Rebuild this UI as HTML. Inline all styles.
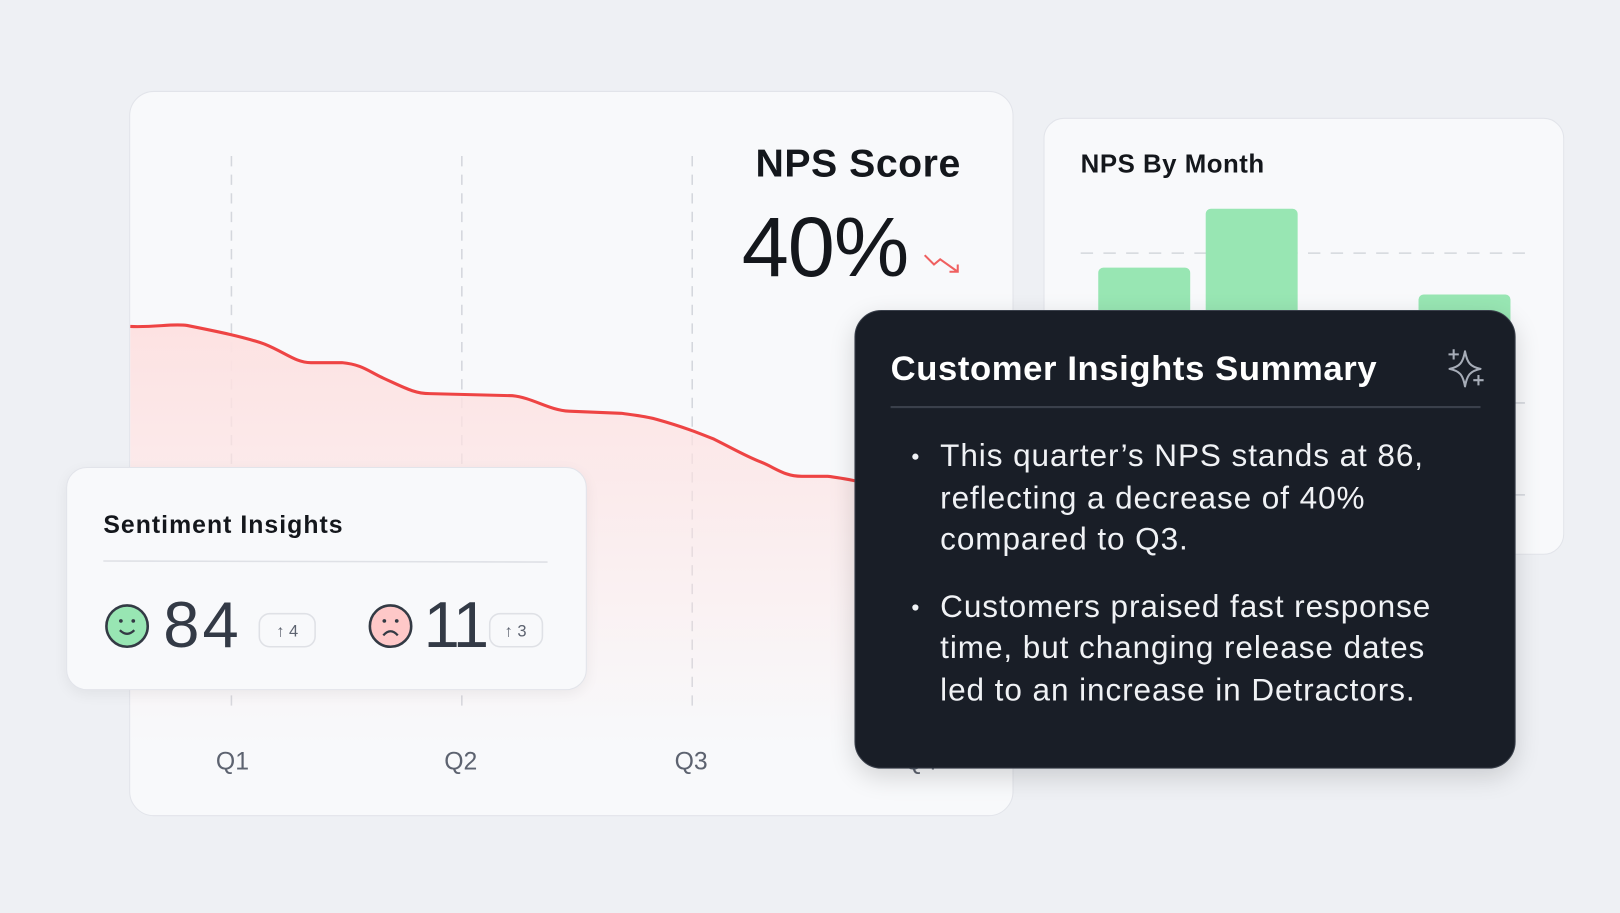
<!DOCTYPE html>
<html><head><meta charset="utf-8"><style>
html,body{margin:0;padding:0;background:#eef0f4;width:1620px;height:912px;overflow:hidden}
#w{position:absolute;left:0;top:0;width:1568px;height:883px;transform:scale(1.03316);transform-origin:0 0;font-family:"Liberation Sans",sans-serif}
.a{position:absolute}
.card{position:absolute;background:#f8f9fb;border:1.5px solid #e2e4ea;box-sizing:border-box}
</style></head><body><div id="w">
<div class="card" style="left:125px;top:88px;width:856px;height:702px;border-radius:24px;overflow:hidden">
<svg class="a" style="left:-125px;top:-88px" width="1568" height="883">
<defs><linearGradient id="g" x1="0" y1="0" x2="0" y2="1"><stop offset="0" stop-color="#fde2e2"/><stop offset="1" stop-color="#fde2e2" stop-opacity="0"/></linearGradient></defs>
<g stroke="#d4d7dd" stroke-width="1.5" stroke-dasharray="10 8"><line x1="223" y1="150" x2="223" y2="682"/><line x1="446" y1="150" x2="446" y2="682"/><line x1="669" y1="150" x2="669" y2="682"/></g>
<path d="M125,315 C150,316 165,312 180,314 C210,320 235,325 255,332 C275,340 285,350 300,350 L330,350 C350,352 355,358 370,365 C390,374 400,380 415,380 L495,382 C515,384 530,396 550,397 L600,399 C615,401 625,402 635,405 C660,412 675,418 690,424 C710,434 720,440 735,446 C750,452 758,460 775,460 L800,460 C810,461 820,463 830,465 L830,720 L125,720 Z" fill="url(#g)"/>
<path d="M125,315 C150,316 165,312 180,314 C210,320 235,325 255,332 C275,340 285,350 300,350 L330,350 C350,352 355,358 370,365 C390,374 400,380 415,380 L495,382 C515,384 530,396 550,397 L600,399 C615,401 625,402 635,405 C660,412 675,418 690,424 C710,434 720,440 735,446 C750,452 758,460 775,460 L800,460 C810,461 820,463 830,465" fill="none" stroke="#ee4444" stroke-width="3"/>
<g font-family="Liberation Sans" font-size="24" fill="#5d6370" text-anchor="middle"><text x="224" y="744">Q1</text><text x="445" y="744">Q2</text><text x="668" y="744">Q3</text><text x="890" y="744">Q4</text></g>
<text x="929" y="170" text-anchor="end" font-size="38" font-weight="bold" fill="#14171c" font-family="Liberation Sans" letter-spacing="0.5">NPS Score</text>
<text x="878" y="266" text-anchor="end" font-size="82" fill="#14171c" font-family="Liberation Sans" letter-spacing="-1">40%</text>
<path d="M894,246 L903,255 L909,250 L926,262 M918,262 L926,262 L926,255" fill="none" stroke="#ef6060" stroke-width="2"/>
</svg></div>

<div class="card" style="left:1010px;top:114px;width:504px;height:423px;border-radius:20px;overflow:hidden">
<svg class="a" style="left:-1010px;top:-114px" width="1568" height="883">
<text x="1045" y="166" font-size="25" font-weight="bold" fill="#14171c" font-family="Liberation Sans" letter-spacing="0.5">NPS By Month</text>
<g stroke="#d4d7dd" stroke-width="1.5" stroke-dasharray="12 10"><line x1="1045" y1="244" x2="1480" y2="244"/><line x1="1045" y1="389" x2="1480" y2="389"/><line x1="1045" y1="478" x2="1480" y2="478"/></g>
<rect x="1062" y="258" width="89" height="200" rx="5" fill="#98e6b3"/>
<rect x="1166" y="201" width="89" height="260" rx="5" fill="#98e6b3"/>
<rect x="1372" y="284" width="89" height="180" rx="5" fill="#98e6b3"/>
</svg></div>

<div class="card" style="left:64px;top:452px;width:504px;height:216px;border-radius:20px;box-shadow:0 4px 14px rgba(0,0,0,.06)">
<svg class="a" style="left:-64px;top:-452px" width="1568" height="883">
<text x="99" y="515" font-size="24" font-weight="bold" fill="#14171c" font-family="Liberation Sans" letter-spacing="1">Sentiment Insights</text>
<line x1="99" y1="542" x2="529" y2="543" stroke="#dfe1e6" stroke-width="1.5"/>
<circle cx="122" cy="605" r="20" fill="#98e6b3" stroke="#333a44" stroke-width="2.5"/>
<circle cx="116" cy="600" r="1.8" fill="#333a44"/><circle cx="128" cy="600" r="1.8" fill="#333a44"/>
<path d="M115,609 Q122,616 129,609" fill="none" stroke="#333a44" stroke-width="2.2"/>
<text x="157" y="625" font-size="63" fill="#333a46" font-family="Liberation Sans" letter-spacing="3">84</text>
<rect x="250" y="593" width="54" height="32" rx="10" fill="#f8f9fb" stroke="#dfe1e6" stroke-width="1.5"/>
<text x="277" y="615" text-anchor="middle" font-size="16" fill="#5d6370" font-family="Liberation Sans">↑ 4</text>
<circle cx="377" cy="605" r="20" fill="#fec8c8" stroke="#333a44" stroke-width="2.5"/>
<circle cx="371" cy="600" r="1.8" fill="#333a44"/><circle cx="383" cy="600" r="1.8" fill="#333a44"/>
<path d="M370,614 Q377,606 384,614" fill="none" stroke="#333a44" stroke-width="2.2"/>
<text x="409" y="625" font-size="63" fill="#333a46" font-family="Liberation Sans" letter-spacing="-2">11</text>
<rect x="473" y="593" width="51" height="32" rx="10" fill="#f8f9fb" stroke="#dfe1e6" stroke-width="1.5"/>
<text x="498" y="615" text-anchor="middle" font-size="16" fill="#5d6370" font-family="Liberation Sans">↑ 3</text>
</svg></div>

<div class="a" style="left:827px;top:300px;width:640px;height:444px;border-radius:26px;background:#191e27;border:1.5px solid #3a404b;box-sizing:border-box;box-shadow:0 8px 24px rgba(0,0,0,.15)">
<svg class="a" style="left:-827px;top:-300px" width="1568" height="883">
<text x="861" y="367" font-size="33.5" font-weight="bold" fill="#ffffff" font-family="Liberation Sans" letter-spacing="0.6">Customer Insights Summary</text>
<path d="M1417,339 C1419,350 1422,354 1432,356 C1422,358 1419,362 1417,373 C1415,362 1412,358 1402,356 C1412,354 1415,350 1417,339 Z M1406,337 v10 M1401,342 h10 M1430,362 v10 M1425,367 h10" fill="none" stroke="#a7adb8" stroke-width="2" stroke-linejoin="round"/>
<line x1="861" y1="393" x2="1432" y2="393" stroke="#3a404b" stroke-width="2"/>
<g font-size="30.5" fill="#f0f2f5" font-family="Liberation Sans" letter-spacing="0.9">
<circle cx="885" cy="441" r="3" fill="#f0f2f5"/>
<text x="909" y="450">This quarter’s NPS stands at 86,</text>
<text x="909" y="491">reflecting a decrease of 40%</text>
<text x="909" y="531">compared to Q3.</text>
<circle cx="885" cy="587" r="3" fill="#f0f2f5"/>
<text x="909" y="596">Customers praised fast response</text>
<text x="909" y="636">time, but changing release dates</text>
<text x="909" y="677">led to an increase in Detractors.</text>
</g></svg></div>
</div></body></html>
